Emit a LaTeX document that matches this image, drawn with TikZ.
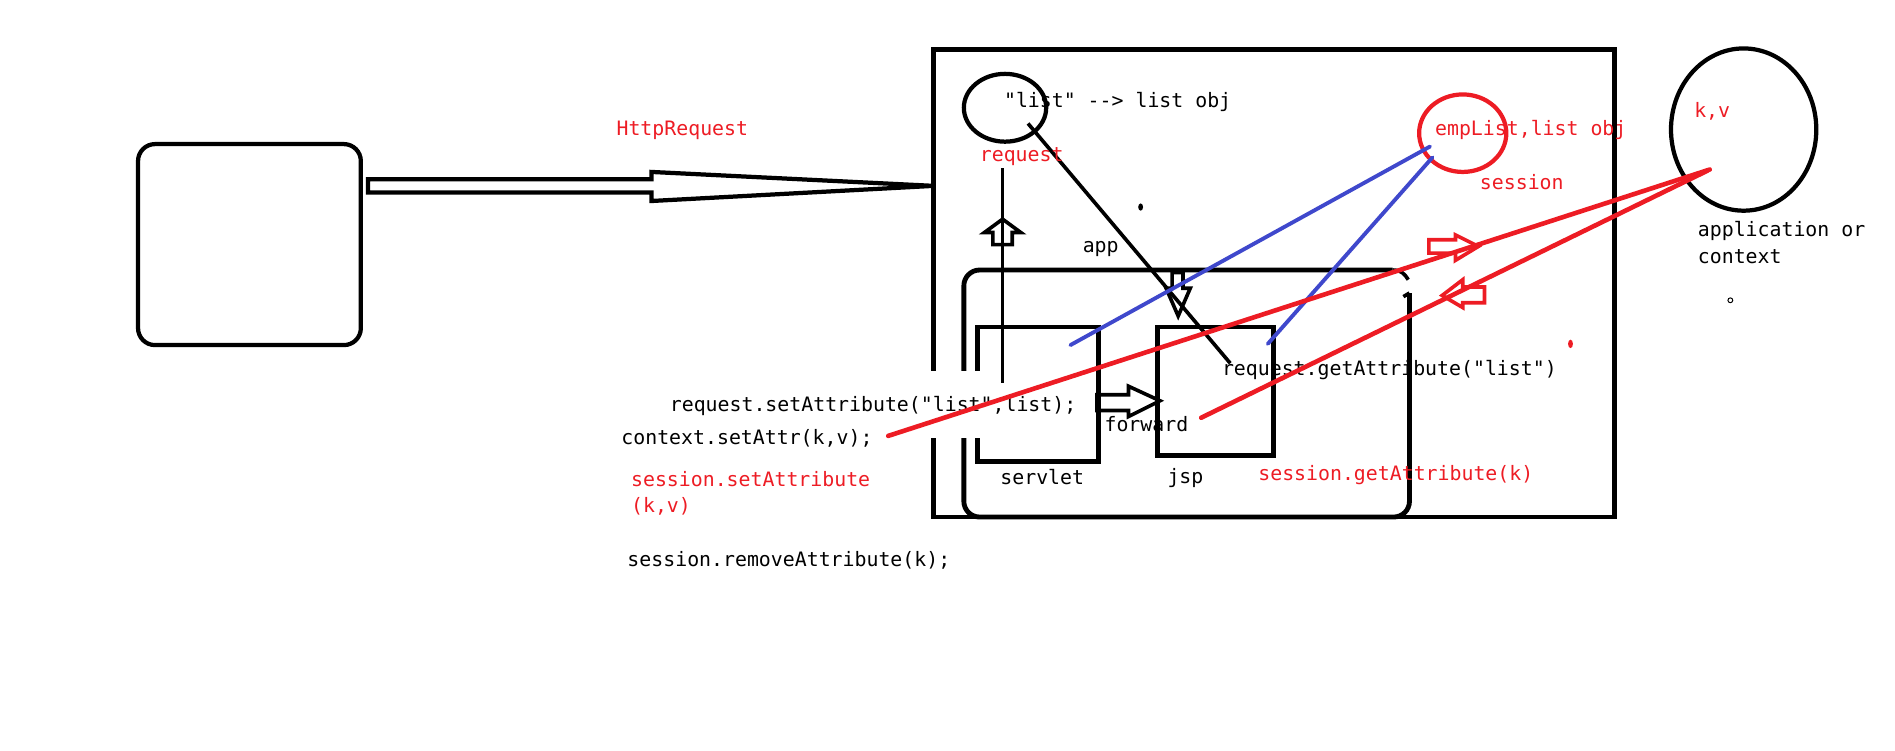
\documentclass[tikz,border=0pt]{standalone}
\usepackage{fontspec}
\setmonofont{DejaVu Sans Mono}
\usetikzlibrary{shapes.geometric}
\definecolor{paintred}{RGB}{237,28,36}
\definecolor{paintblue}{RGB}{63,72,204}
\tikzset{
  box/.style={draw, line width=4pt, inner sep=0pt},
  blob/.style={draw, ellipse, line width=3.5pt, inner sep=0pt},
  txt/.style={anchor=west, inner sep=0pt, align=left, font=\ttfamily\fontsize{16.4}{22}\selectfont},
  redtxt/.style={txt, text=paintred},
  hollow/.style={draw, line width=3pt, line join=miter},
  redpen/.style={paintred, line width=3.8pt, line cap=round},
  bluepen/.style={paintblue, line width=3.2pt, line cap=round},
}
\begin{document}
\begin{tikzpicture}[x=1pt, y=-1pt]
    \useasboundingbox (0,0) rectangle (1565,620);

    \node[box, line width=3.5pt, rounded corners=14pt, minimum width=184pt, minimum height=166pt] (client) at (206,202) {};
    \node[box, minimum width=562pt, minimum height=386pt] (server) at (1052,234) {};
    \node[box, minimum width=100pt, minimum height=111pt] (servlet) at (857,325.5) {};
    \node[box, minimum width=96pt, minimum height=106pt] (jsp) at (1004,323) {};

    %app box
    \draw[line width=4pt, rounded corners=13pt] (1164,242) -- (1164,427) -- (796,427) -- (796,223) -- (1150,223);
    \draw[line width=3pt] (1150,223) .. controls (1157,223) and (1160,226) .. (1163,231);
    \draw[line width=3pt] (1159,245) -- (1164,242);

    %scopes
    \node[blob, minimum width=68pt, minimum height=56pt] (reqset) at (830,89) {};
    \node[blob, draw=paintred, minimum width=72pt, minimum height=64pt] (sesset) at (1208,110) {};
    \node[blob, minimum width=120pt, minimum height=134pt] (ctxset) at (1440,107) {};

    \coordinate (r1) at (828,139);
    \coordinate (r2) at (828,316);
    \coordinate (g1) at (849,102);
    \coordinate (g2) at (1016,300);
    \draw[line width=3pt] (r1) -- (r2);
    \draw[line width=3pt] (g1) -- (g2);

    %text covers the left edges
    \fill[white] (764,306) rectangle (814,362);

    \node[redtxt] (httplbl) at (509,108) {HttpRequest};
    \node[txt] (reqobj) at (829,84) {"list" -\/-> list obj};
    \node[redtxt] (reqlbl) at (809,129.5) {request};
    \node[redtxt] (sesobj) at (1185,107) {empList,list obj};
    \node[redtxt] (seslbl) at (1222,150) {session};
    \node[redtxt] (ctxobj) at (1399,92) {k,v};
    \node[txt] (ctxlbl) at (1402,200.5) {application or\\context};
    \node[txt] (applbl) at (894,206) {app};
    \node[txt] (servletlbl) at (826,394) {servlet};
    \node[txt] (jsplbl) at (964,395) {jsp};
    \node[txt] (fwdlbl) at (912,350) {forward};
    \node[txt] (reqget) at (1009,306) {request.getAttribute("list")};
    \node[redtxt] (sesget) at (1039,392) {session.getAttribute(k)};
    \node[txt] (reqsetlbl) at (553,335) {request.setAttribute("list",list);};
    \node[txt] (ctxsetlbl) at (513,362) {context.setAttr(k,v);};
    \node[redtxt] (sessetlbl) at (521,407.5) {session.setAttribute\\(k,v)};
    \node[txt] (sesrmlbl) at (518,462.5) {session.removeAttribute(k);};

    %hollow arrows
    \draw[hollow, line width=3.5pt] (304,148) -- (538,148) -- (538,142) -- (771,153.5) -- (538,166) -- (538,159) -- (304,159) -- cycle;
    \draw[hollow] (828,181) -- (843,192) -- (836,192) -- (836,202) -- (820,202) -- (820,192) -- (813,192) -- cycle;
    \draw[hollow] (968,225) -- (977,225) -- (977,238) -- (983,238) -- (973,261) -- (963,238) -- (968,238) -- cycle;
    \draw[hollow] (906,326) -- (932,326) -- (932,319) -- (958,331) -- (932,344) -- (932,339) -- (906,339) -- cycle;
    \draw[hollow, paintred] (1180,198) -- (1202,198) -- (1202,194) -- (1221,203.5) -- (1202,215) -- (1202,209) -- (1180,209) -- cycle;
    \draw[hollow, paintred] (1191,244) -- (1208,231) -- (1208,237) -- (1226,237) -- (1226,250) -- (1208,250) -- (1208,254) -- cycle;

    \coordinate (b1) at (884,285);
    \coordinate (b2) at (1047,284);
    \coordinate (s1) at (1181,121);
    \coordinate (s2) at (1183,130);
    \draw[bluepen] (b1) -- (s1);
    \draw[bluepen] (b2) -- (s2);

    \coordinate (c1) at (733.5,360);
    \coordinate (c2) at (992,345);
    \coordinate (k1) at (1412,140);
    \coordinate (k2) at (1410,141);
    \draw[redpen] (c1) -- (k1);
    \draw[redpen] (c2) -- (k2);

    \fill (942,171) ellipse [x radius=2, y radius=3];
    \fill[paintred] (1297,284) ellipse [x radius=2, y radius=3.5];
    \draw[line width=0.8pt] (1429,248) circle [radius=2];
\end{tikzpicture}
\end{document}
